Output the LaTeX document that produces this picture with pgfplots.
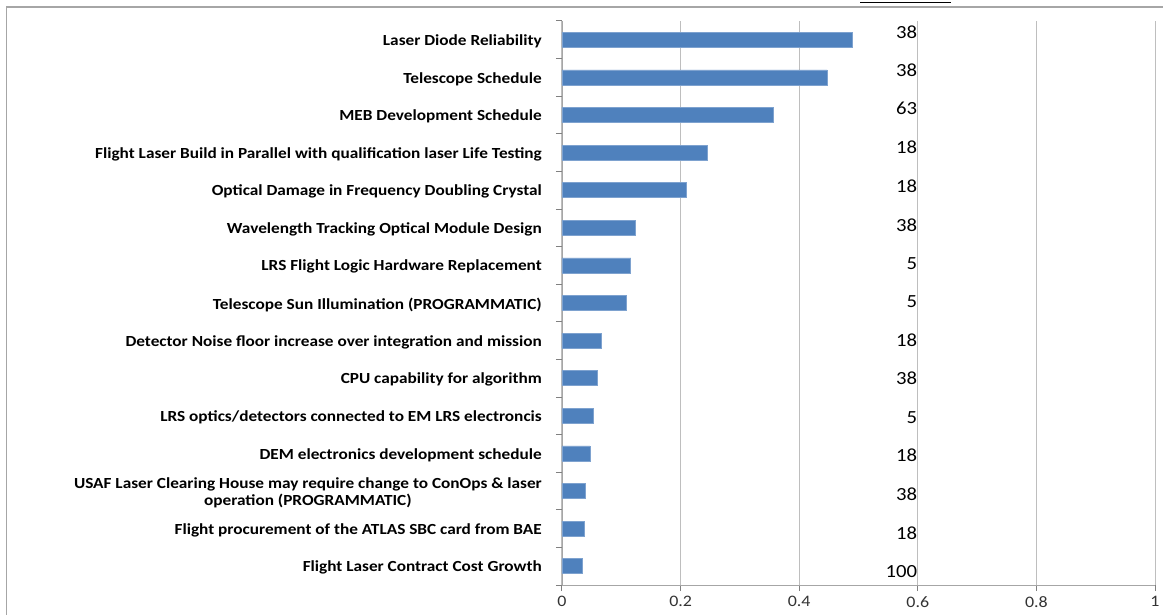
\documentclass[border=0pt]{standalone}
\usepackage{pgfplots}
\pgfplotsset{compat=1.18}
\usepackage{pgfplotstable}
\usepackage{fontspec}
\setmainfont{Carlito}
\newfontfamily\widefont[FakeStretch=1.12]{Carlito}
\definecolor{barblue}{HTML}{4F81BD}
\definecolor{baredge}{HTML}{7EA2CF}
\definecolor{gridgray}{HTML}{BEBEBE}
\definecolor{framegray}{HTML}{A6A6A6}
\definecolor{tickgray}{HTML}{808080}

\pgfplotstableread{
y val
0 0.034
1 0.037
2 0.040
3 0.047
4 0.052
5 0.059
6 0.066
7 0.108
8 0.116
9 0.123
10 0.209
11 0.245
12 0.357
13 0.447
14 0.489
}\bardata

\pgfplotstableread{
x y lab
0.599 -0.13 100
0.599 0.88 18
0.599 1.91 38
0.599 2.95 18
0.599 3.96 5
0.599 5.00 38
0.599 6.00 18
0.599 7.04 5
0.599 8.05 5
0.599 9.06 38
0.599 10.10 18
0.599 11.13 18
0.599 12.17 63
0.599 13.18 38
0.599 14.19 38
}\numdata

\begin{document}
\begin{tikzpicture}
\path[use as bounding box] (0pt,0pt) rectangle (1163pt,-615pt);
\draw[framegray, line width=1.3pt] (6.5pt,-615pt) -- (6.5pt,-7pt) -- (1163pt,-7pt);
\draw[black, line width=0.8pt] (860pt,-2pt) -- (951pt,-2pt);
\begin{axis}[
  at={(562pt,-585pt)}, anchor=south west,
  scale only axis, width=593pt, height=564pt,
  xmin=0, xmax=1, ymin=-0.5, ymax=14.5,
  axis x line*=bottom, axis y line*=left,
  axis line style={-, framegray, line width=0.8pt},
  xtick={0,0.2,0.4,0.6,0.8,1},
  xticklabels={0,0.2,0.4,0.6,0.8,1},
  xmajorgrids, grid style={gridgray, line width=1pt},
  major tick length=6pt,
  tick align=outside,
  major tick style={draw=tickgray, line width=1pt},
  ytick={-0.5,0.5,...,14.5},
  yticklabels={},
  extra y ticks={0,...,14},
  extra y tick style={major tick length=0pt,
    yticklabel style={font=\widefont\bfseries\fontsize{15.4}{17}\selectfont, align=center, inner sep=0pt, xshift=-20pt, yshift=-1.5pt}},
  extra y tick labels={
    Flight Laser Contract Cost Growth,
    Flight procurement of the ATLAS SBC card from BAE,
    {USAF Laser Clearing House may require change to ConOps \& laser\\operation (PROGRAMMATIC)},
    DEM electronics development schedule,
    LRS optics/detectors connected to EM LRS electroncis,
    CPU capability for algorithm,
    Detector Noise floor increase over integration and mission,
    Telescope Sun Illumination (PROGRAMMATIC),
    LRS Flight Logic Hardware Replacement,
    Wavelength Tracking Optical Module Design,
    Optical Damage in Frequency Doubling Crystal,
    Flight Laser Build in Parallel with qualification laser Life Testing,
    MEB Development Schedule,
    Telescope Schedule,
    Laser Diode Reliability},
  xticklabel style={font=\widefont\fontsize{16}{17}\selectfont, text=black!80, yshift=-2pt},
  /pgf/number format/assume math mode=true,
  clip=false,
]
\addplot[xbar, bar width=0.4, fill=barblue, draw=baredge, line width=0.6pt]
  table[x=val, y=y] {\bardata};
\addplot[draw=none, mark=none, nodes near coords, point meta=explicit symbolic,
  nodes near coords style={anchor=east, inner sep=0pt, font=\widefont\fontsize{18.5}{19}\selectfont, text=black}]
  table[x=x, y=y, meta=lab] {\numdata};
\end{axis}
\end{tikzpicture}
\end{document}
